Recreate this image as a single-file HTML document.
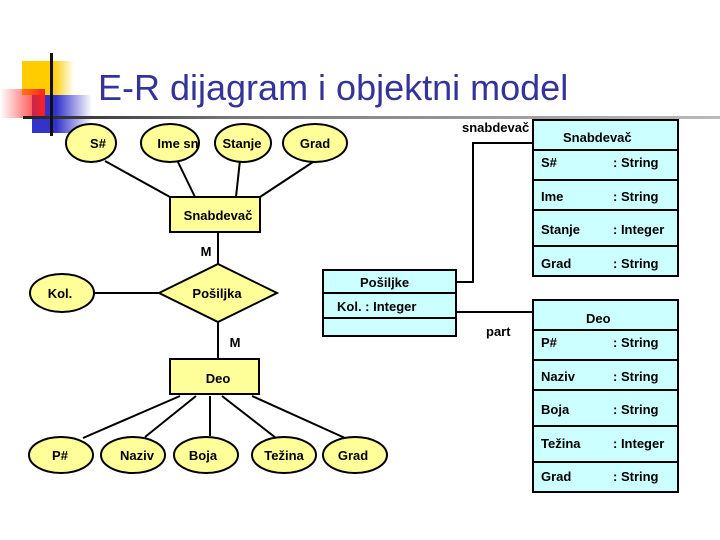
<!DOCTYPE html>
<html><head><meta charset="utf-8"><style>
html,body{margin:0;padding:0;background:#fff;}
svg{display:block;}
text{font-family:"Liberation Sans",sans-serif;font-size:13px;fill:#000;}
.b{font-weight:bold;}
</style></head><body>
<svg width="720" height="540" viewBox="0 0 720 540" xmlns="http://www.w3.org/2000/svg">
<defs>
<linearGradient id="gy" x1="0" x2="1"><stop offset="0" stop-color="#ffcc00"/><stop offset="0.6" stop-color="#ffcc00"/><stop offset="1" stop-color="#ffcc00" stop-opacity="0"/></linearGradient>
<linearGradient id="gr" x1="1" x2="0"><stop offset="0" stop-color="#ff2020"/><stop offset="1" stop-color="#ff2020" stop-opacity="0"/></linearGradient>
<linearGradient id="gb" x1="0" x2="1"><stop offset="0" stop-color="#3333cc"/><stop offset="0.4" stop-color="#3333cc"/><stop offset="1" stop-color="#3333cc" stop-opacity="0"/></linearGradient>
<linearGradient id="gl" x1="0" x2="1"><stop offset="0" stop-color="#222"/><stop offset="0.3" stop-color="#777"/><stop offset="1" stop-color="#bbb"/></linearGradient>
</defs>
<!-- decoration -->
<rect x="22" y="61" width="52" height="34" fill="url(#gy)"/>
<rect x="32" y="95" width="60" height="38" fill="url(#gb)"/>
<rect x="0" y="89" width="45" height="29" fill="url(#gr)"/>
<rect x="23" y="116" width="697" height="3" fill="url(#gl)"/>
<rect x="50" y="53" width="3" height="83" fill="#111"/>
<text x="98" y="100" style="font-size:36px;fill:#333399">E-R dijagram i objektni model</text>

<g stroke="#000" stroke-width="2" fill="none">
<!-- top attr lines -->
<line x1="105" y1="161" x2="170" y2="197"/>
<line x1="177" y1="160" x2="195" y2="197"/>
<line x1="240" y1="160" x2="236" y2="197"/>
<line x1="313" y1="162" x2="260" y2="197"/>
<line x1="218" y1="232" x2="218" y2="264"/>
<line x1="94" y1="293" x2="160" y2="293"/>
<line x1="218" y1="322" x2="218" y2="359"/>
<line x1="180" y1="396" x2="83" y2="438"/>
<line x1="196" y1="396" x2="145" y2="437"/>
<line x1="210" y1="396" x2="210" y2="436"/>
<line x1="222" y1="396" x2="276" y2="438"/>
<line x1="252" y1="396" x2="345" y2="438"/>
<!-- class connectors -->
<polyline points="456,282 473,282 473,143 533,143"/>
<line x1="456" y1="312" x2="533" y2="312"/>
</g>
<g stroke="#000" stroke-width="2" fill="#ffff99">
<ellipse cx="91" cy="143" rx="25" ry="19"/>
<ellipse cx="170" cy="143" rx="29" ry="19"/>
<ellipse cx="243" cy="143" rx="28" ry="19"/>
<ellipse cx="315" cy="143" rx="32" ry="19"/>
<rect x="170" y="197" width="90" height="35"/>
<polygon points="159,293 218,264 277,293 218,322"/>
<ellipse cx="62" cy="293" rx="32" ry="19"/>
<rect x="170" y="359" width="89" height="35"/>
<ellipse cx="61" cy="455" rx="32" ry="18"/>
<ellipse cx="133" cy="455" rx="32" ry="18"/>
<ellipse cx="206" cy="455" rx="32" ry="18"/>
<ellipse cx="284" cy="455" rx="32" ry="18"/>
<ellipse cx="355" cy="455" rx="32" ry="18"/>
</g>
<g class="b" text-anchor="middle">
<text x="98" y="148">S#</text>
<text x="178" y="148">Ime sn</text>
<text x="242" y="148">Stanje</text>
<text x="315" y="148">Grad</text>
<text x="218" y="220">Snabdevač</text>
<text x="206" y="256">M</text>
<text x="60" y="298">Kol.</text>
<text x="217" y="298">Pošiljka</text>
<text x="235" y="347">M</text>
<text x="218" y="383">Deo</text>
<text x="60" y="460">P#</text>
<text x="137" y="460">Naziv</text>
<text x="203" y="460">Boja</text>
<text x="284" y="460">Težina</text>
<text x="353" y="460">Grad</text>
</g>

<!-- UML classes -->
<g stroke="#000" stroke-width="2" fill="#ccffff">
<rect x="533" y="120" width="145" height="156"/>
<rect x="323" y="270" width="133" height="66"/>
<rect x="533" y="300" width="145" height="192"/>
</g>
<g stroke="#000" stroke-width="2">
<line x1="533" y1="150" x2="678" y2="150"/>
<line x1="533" y1="180" x2="678" y2="180"/>
<line x1="533" y1="210" x2="678" y2="210"/>
<line x1="533" y1="246" x2="678" y2="246"/>
<line x1="323" y1="293" x2="456" y2="293"/>
<line x1="323" y1="318" x2="456" y2="318"/>
<line x1="533" y1="330" x2="678" y2="330"/>
<line x1="533" y1="360" x2="678" y2="360"/>
<line x1="533" y1="390" x2="678" y2="390"/>
<line x1="533" y1="426" x2="678" y2="426"/>
<line x1="533" y1="462" x2="678" y2="462"/>
</g>
<g class="b">
<text x="462" y="132">snabdevač</text>
<text x="563" y="142">Snabdevač</text>
<text x="541" y="167">S#</text><text x="613" y="167">: String</text>
<text x="541" y="201">Ime</text><text x="613" y="201">: String</text>
<text x="541" y="234">Stanje</text><text x="613" y="234">: Integer</text>
<text x="541" y="268">Grad</text><text x="613" y="268">: String</text>
<text x="360" y="287">Pošiljke</text>
<text x="337" y="311">Kol. : Integer</text>
<text x="486" y="336">part</text>
<text x="586" y="323">Deo</text>
<text x="541" y="347">P#</text><text x="613" y="347">: String</text>
<text x="541" y="381">Naziv</text><text x="613" y="381">: String</text>
<text x="541" y="414">Boja</text><text x="613" y="414">: String</text>
<text x="541" y="448">Težina</text><text x="613" y="448">: Integer</text>
<text x="541" y="481">Grad</text><text x="613" y="481">: String</text>
</g>
</svg>
</body></html>
